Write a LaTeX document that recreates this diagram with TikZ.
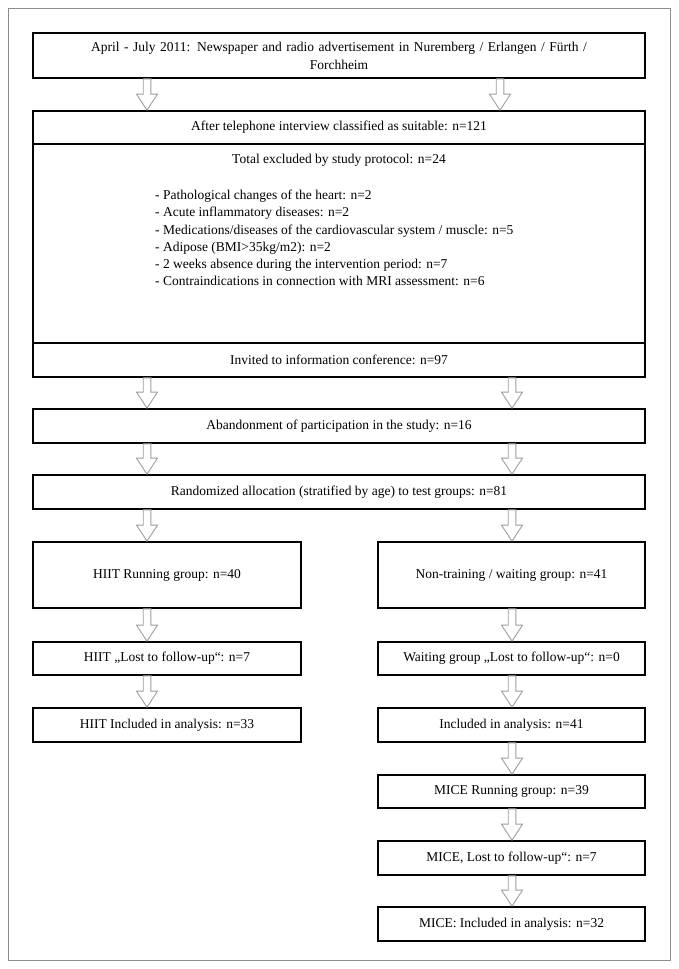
\documentclass[tikz,border=0pt]{standalone}
\usepackage{fontspec}
\setmainfont{Liberation Serif}
\usetikzlibrary{calc}

\tikzset{
	stage/.style={draw=black, line width=1.7pt, fill=white, align=center,
		inner sep=2pt, minimum width=#1},
	stage/.default=612pt,
	hollowarrow/.style={draw=black!38, fill=white, line width=0.9pt,
		to path={let \p1=(\tikztostart), \p2=(\tikztotarget) in
			(\x1-3.8pt,\y1) -- (\x1-3.8pt,\y2+16pt) -- (\x1-10.5pt,\y2+16pt)
			-- (\x1,\y2) -- (\x1+10.5pt,\y2+16pt) -- (\x1+3.8pt,\y2+16pt)
			-- (\x1+3.8pt,\y1) -- cycle}}
}

\begin{document}
\begin{tikzpicture}[
		x=1pt,
		y=-1pt,
		every node/.style={font=\fontsize{13.5}{18}\selectfont}
		]
		
		\def\MidX{339}
		\def\LeftX{167}
		\def\RightX{511.5}
		
		\useasboundingbox (0,0) rectangle (679,969);
		
		% Grey frame round the whole chart.
		\draw[black!45, line width=1pt] (8,8) rectangle (670,960);
		
		% Columns of the block arrows.
		\coordinate (topL) at (147,0);
		\coordinate (topR) at (500,0);
		\coordinate (colR) at (512,0);
		
		% Recruitment and screening.
		\node[stage, minimum height=45pt, text width=600pt] (advert) at (\MidX,55.5)
		{April - July 2011: Newspaper and radio advertisement in Nuremberg / Erlangen / Fürth /\\ Forchheim};
		\node[stage, minimum height=33pt] (phone) at (\MidX,127.5)
		{After telephone interview classified as suitable: n=121};
		\node[stage, minimum height=199pt] (excluded) at (\MidX,243.5) {};
		\node (exclTitle) at (\MidX,160) {Total excluded by study protocol: n=24};
		\node[anchor=west, align=left, inner sep=0pt,
		font=\fontsize{13.5}{17.3}\selectfont] (exclList) at (155,238)
		{- Pathological changes of the heart: n=2\\
			- Acute inflammatory diseases: n=2\\
			- Medications/diseases of the cardiovascular system / muscle: n=5\\
			- Adipose (BMI>35kg/m2): n=2\\
			- 2 weeks absence during the intervention period: n=7\\
			- Contraindications in connection with MRI assessment: n=6};
		\node[stage, minimum height=34pt] (invited) at (\MidX,360)
		{Invited to information conference: n=97};
		\node[stage, minimum height=34pt] (abandon) at (\MidX,426)
		{Abandonment of participation in the study: n=16};
		\node[stage, minimum height=34pt] (random) at (\MidX,492)
		{Randomized allocation (stratified by age) to test groups: n=81};
		
		% Left branch: HIIT.
		\node[stage=268pt, minimum height=66pt] (hiit) at (\LeftX,575)
		{HIIT Running group: n=40};
		\node[stage=268pt, minimum height=33pt] (hiitLost) at (\LeftX,658.5)
		{HIIT „Lost to follow-up“: n=7};
		\node[stage=268pt, minimum height=34pt] (hiitIncl) at (\LeftX,725)
		{HIIT Included in analysis: n=33};
		
		% Right branch: waiting group, then MICE.
		\node[stage=267pt, minimum height=66pt] (wait) at (\RightX,575)
		{Non-training / waiting group: n=41};
		\node[stage=267pt, minimum height=33pt] (waitLost) at (\RightX,658.5)
		{Waiting group „Lost to follow-up“: n=0};
		\node[stage=267pt, minimum height=34pt] (waitIncl) at (\RightX,725)
		{Included in analysis: n=41};
		\node[stage=267pt, minimum height=33pt] (mice) at (\RightX,791.5)
		{MICE Running group: n=39};
		\node[stage=267pt, minimum height=34pt] (miceLost) at (\RightX,858)
		{MICE, Lost to follow-up“: n=7};
		\node[stage=267pt, minimum height=34pt] (miceIncl) at (\RightX,924)
		{MICE: Included in analysis: n=32};
		
		% Arrows between the full-width boxes.
		\draw[hollowarrow] (advert.south -| topL) to (phone.north -| topL);
		\draw[hollowarrow] (advert.south -| topR) to (phone.north -| topR);
		\draw[hollowarrow] (invited.south -| topL) to (abandon.north -| topL);
		\draw[hollowarrow] (invited.south -| colR) to (abandon.north -| colR);
		\draw[hollowarrow] (abandon.south -| topL) to (random.north -| topL);
		\draw[hollowarrow] (abandon.south -| colR) to (random.north -| colR);
		\draw[hollowarrow] (random.south -| topL) to (hiit.north -| topL);
		\draw[hollowarrow] (random.south -| colR) to (wait.north -| colR);
		
		% Arrows down the two branches.
		\draw[hollowarrow] (hiit.south -| topL) to (hiitLost.north -| topL);
		\draw[hollowarrow] (hiitLost.south -| topL) to (hiitIncl.north -| topL);
		\draw[hollowarrow] (wait.south -| colR) to (waitLost.north -| colR);
		\draw[hollowarrow] (waitLost.south -| colR) to (waitIncl.north -| colR);
		\draw[hollowarrow] (waitIncl.south -| colR) to (mice.north -| colR);
		\draw[hollowarrow] (mice.south -| colR) to (miceLost.north -| colR);
		\draw[hollowarrow] (miceLost.south -| colR) to (miceIncl.north -| colR);
		
	\end{tikzpicture}
\end{document}
